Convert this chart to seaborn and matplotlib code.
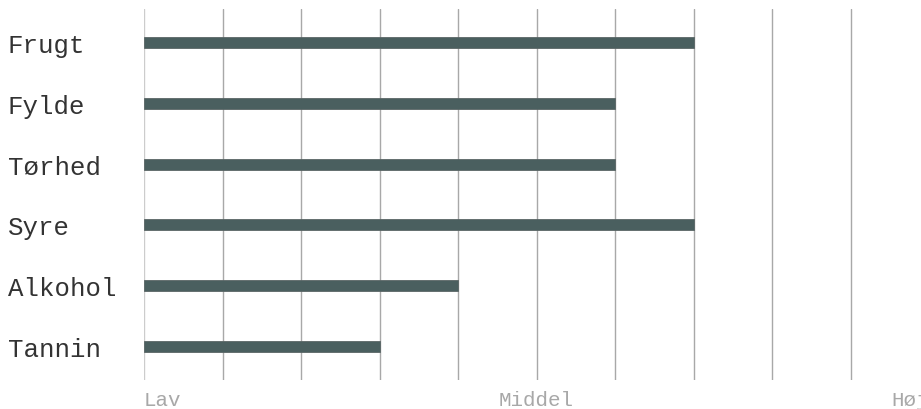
import matplotlib
matplotlib.use('Agg')
import matplotlib.pyplot as plt
import seaborn as sns
import pandas as pd

# ===== DATA =====
kategorier = ["Frugt", "Fylde", "Tørhed", "Syre", "Alkohol", "Tannin"]
vaerdier = [7, 6, 6, 7, 4, 3]
tick_pos = [0, 5, 10]
tick_labels = ["Lav", "Middel", "Høj"]

df = pd.DataFrame({"kategori": kategorier, "vaerdi": vaerdier})

# ===== STYLE =====
sns.set_theme(style="white")
plt.rcParams['font.family'] = ['Liberation Mono', 'DejaVu Sans Mono']

fig = plt.figure(figsize=(9.21, 4.10), dpi=100)
ax = fig.add_axes([144 / 921, 29 / 410, 785 / 921, 371 / 410])

sns.barplot(data=df, x="vaerdi", y="kategori", orient="h", width=0.18,
            color="#4a5f5f", saturation=1, edgecolor="#5a6666", linewidth=0.6, ax=ax)

ax.set_xlim(0, 10)
ax.set_ylim(5.55, -0.55)
ax.set_xlabel("")
ax.set_ylabel("")

# lodrette gitterlinjer
for v in range(0, 10):
    ax.axvline(v, color="#cccccc" if v == 0 else "#a8a8a8", lw=1, zorder=0)

for s in ax.spines.values():
    s.set_visible(False)

ax.set_xticks(tick_pos)
ax.set_xticklabels(tick_labels)
ax.tick_params(axis="x", length=0, pad=7, labelsize=15, labelcolor="#a8a8a8")
xl = ax.get_xticklabels()
xl[0].set_ha("left")
xl[1].set_ha("center")
xl[2].set_ha("right")

ax.tick_params(axis="y", length=0, pad=98, labelsize=18.5, labelcolor="#333333")
for t in ax.get_yticklabels():
    t.set_ha("left")

fig.savefig("out.png", dpi=100)
plt.close()
